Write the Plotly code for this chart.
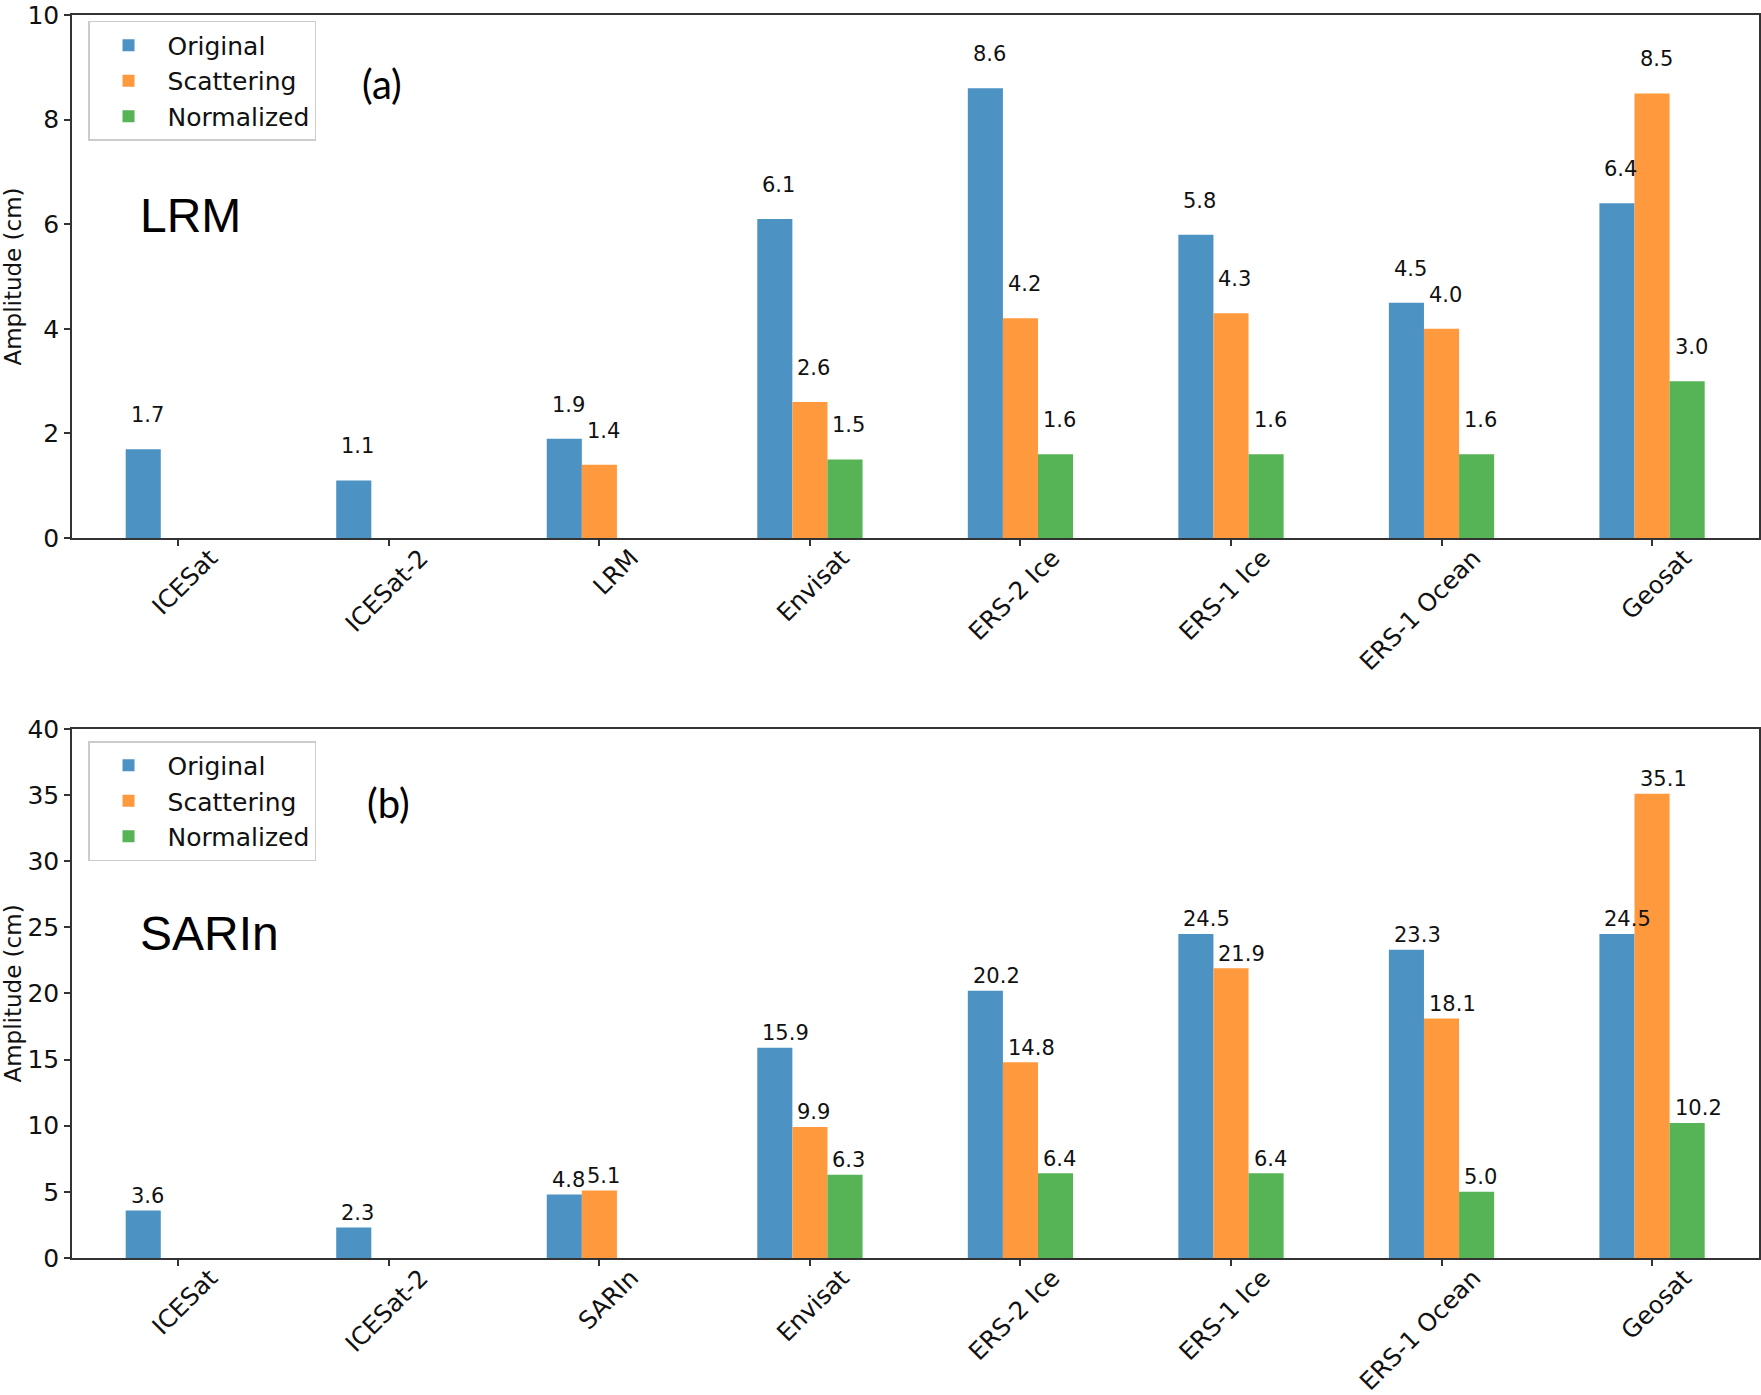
import plotly.graph_objects as go

# ---------------- data ----------------
cats_lrm = ["ICESat", "ICESat-2", "LRM", "Envisat", "ERS-2 Ice", "ERS-1 Ice", "ERS-1 Ocean", "Geosat"]
cats_sarin = ["ICESat", "ICESat-2", "SARIn", "Envisat", "ERS-2 Ice", "ERS-1 Ice", "ERS-1 Ocean", "Geosat"]
series_names = ["Original", "Scattering", "Normalized"]

lrm_original = [1.7, 1.1, 1.9, 6.1, 8.6, 5.8, 4.5, 6.4]
lrm_scattering = [None, None, 1.4, 2.6, 4.2, 4.3, 4.0, 8.5]
lrm_normalized = [None, None, None, 1.5, 1.6, 1.6, 1.6, 3.0]

sarin_original = [3.6, 2.3, 4.8, 15.9, 20.2, 24.5, 23.3, 24.5]
sarin_scattering = [None, None, 5.1, 9.9, 14.8, 21.9, 18.1, 35.1]
sarin_normalized = [None, None, None, 6.3, 6.4, 6.4, 5.0, 10.2]

yticks_lrm = [0, 2, 4, 6, 8, 10]
yticks_sarin = [0, 5, 10, 15, 20, 25, 30, 35, 40]

# ---------------- style ----------------
colors = ["#4c92c3", "#ff993e", "#56b356"]
FONT = "DejaVu Sans"
AXCOL = "#333333"
LABEL_OFFSET = 0.5  # data units above bar top

fig = go.Figure()

panels = [
    ("x", "y", "legend", cats_lrm, [lrm_original, lrm_scattering, lrm_normalized]),
    ("x2", "y2", "legend2", cats_sarin, [sarin_original, sarin_scattering, sarin_normalized]),
]

annotations = []
for xa, ya, lg, cats, series in panels:
    for j, (name, vals) in enumerate(zip(series_names, series)):
        fig.add_trace(go.Bar(
            x=cats, y=vals, name=name, marker_color=colors[j],
            marker_line_width=0, xaxis=xa, yaxis=ya, legend=lg,
        ))
        for i, v in enumerate(vals):
            if v is None:
                continue
            annotations.append(dict(
                x=i + (j - 1) / 6 - 1 / 12, y=v + LABEL_OFFSET,
                xref=xa, yref=ya, text=f"{v:.1f}", showarrow=False,
                xanchor="left", yanchor="bottom", xshift=3, yshift=-6,
                font=dict(family=FONT, size=21, color="#111111"),
            ))

# panel captions
captions = [
    ("LRM", 0.0705, 0.8383, "Liberation Sans", 48),
    ("(a)", 0.1838, 0.9445, "Lato", 40),
    ("SARIn", 0.0818, 0.2607, "Liberation Sans", 48),
    ("(b)", 0.1879, 0.3660, "Lato", 40),
]
for txt, px, py, fam, sz in captions:
    annotations.append(dict(
        x=px, y=py, xref="paper", yref="paper", text=txt, showarrow=False,
        xanchor="center", yanchor="middle", font=dict(family=fam, size=sz, color="#000000"),
    ))

xaxis_common = dict(
    type="category", range=[-0.505, 7.508], tickangle=-45, ticks="outside",
    ticklen=6, tickwidth=1.5, tickcolor=AXCOL, showline=True, linecolor=AXCOL,
    linewidth=1.6, mirror=True, showgrid=False, zeroline=False, automargin=False,
    tickfont=dict(family=FONT, size=24.5, color="#111111"), ticklabelshift=32,
    ticklabelstandoff=-12,
)
yaxis_common = dict(
    ticks="outside", ticklen=6, tickwidth=1.5, tickcolor=AXCOL, showline=True,
    linecolor=AXCOL, linewidth=1.6, mirror=True, showgrid=False, zeroline=False,
    automargin=False, ticklabeloverflow="allow",
    tickfont=dict(family=FONT, size=25, color="#111111"),
    title=dict(text="Amplitude (cm)", font=dict(family=FONT, size=23, color="#111111"), standoff=6),
)

legend_common = dict(
    x=0.0095, xanchor="left", yanchor="top", bgcolor="white",
    bordercolor="#cccccc", borderwidth=1.5, itemwidth=68,
    font=dict(family=FONT, size=25, color="#111111"), traceorder="normal",
)

fig.update_layout(
    width=1761, height=1395,
    margin=dict(l=72, r=2, t=15, b=137, autoexpand=False),
    paper_bgcolor="white", plot_bgcolor="white",
    barmode="group", bargap=0.5, bargroupgap=0,
    xaxis=dict(domain=[0, 1], anchor="y", **xaxis_common),
    yaxis=dict(domain=[0.5792, 1], anchor="x", range=[0, 10], tickvals=yticks_lrm, **yaxis_common),
    xaxis2=dict(domain=[0, 1], anchor="y2", **xaxis_common),
    yaxis2=dict(domain=[0, 0.4256], anchor="x2", range=[0, 40], tickvals=yticks_sarin, **yaxis_common),
    legend=dict(y=0.9952, **legend_common),
    legend2=dict(y=0.4159, **legend_common),
    annotations=annotations,
    showlegend=True,
)

fig.write_html(
    "out.html",
    config={"displayModeBar": False},
    post_script="document.body.style.margin='0';document.body.style.overflow='hidden';",
)
